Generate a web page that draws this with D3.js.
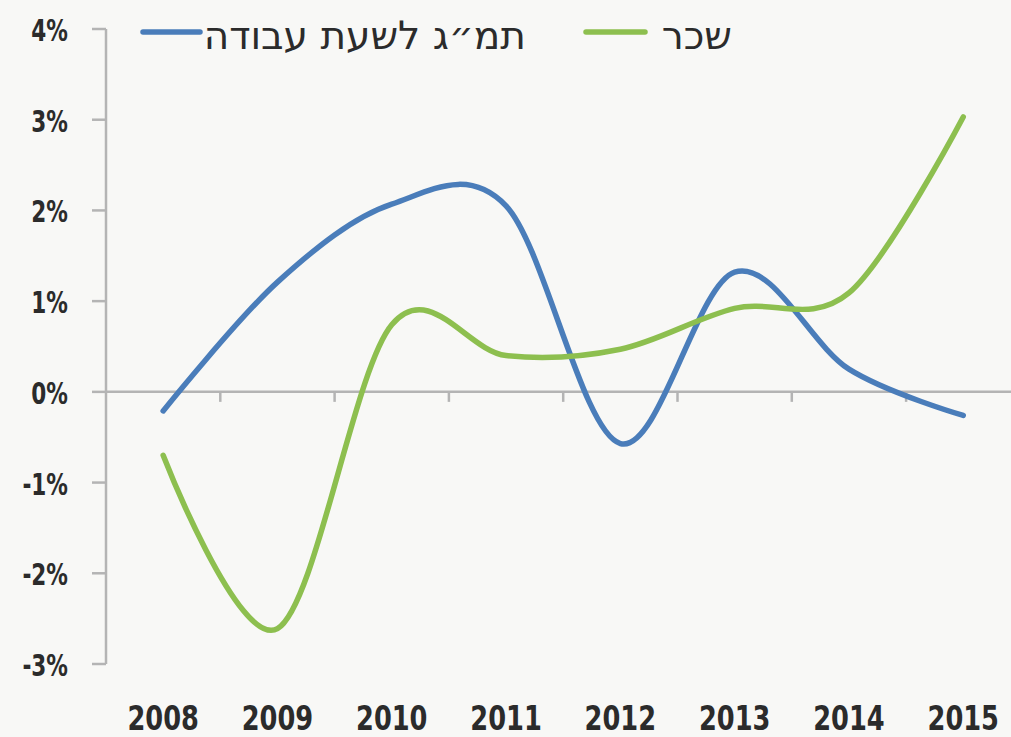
<!DOCTYPE html>
<html>
<head>
<meta charset="utf-8">
<script src="https://cdn.jsdelivr.net/npm/d3@7"></script>
<style>
  html, body { margin: 0; padding: 0; background: #f8f8f6; }
  .tick-label { font-family: "DejaVu Sans Condensed", "DejaVu Sans", sans-serif; font-stretch: condensed; font-weight: bold; fill: #2b2b2b; }
  .legend-label { font-family: "DejaVu Sans", "Liberation Sans", sans-serif; fill: #2b2b2b; }
</style>
</head>
<body>
<div id="chart"></div>
<script>
// years on the x axis
const years = ["2008", "2009", "2010", "2011", "2012", "2013", "2014", "2015"];

// GDP per work hour (blue) and wages (green), % change
const productivity = [-0.21, 1.21, 2.07, 2.05, -0.57, 1.32, 0.25, -0.26];
const wages = [-0.70, -2.61, 0.74, 0.40, 0.47, 0.92, 1.09, 3.03];

const seriesNames = ["תמ״ג לשעת עבודה", "שכר"];
const seriesColors = ["#4a7dba", "#8dbf4f"];

const yTicks = [4, 3, 2, 1, 0, -1, -2, -3];

// dimensions
const width = 1011;
const height = 737;
const margin = { top: 29, left: 106, bottom: 73, right: 0 };

const svg = d3.select("#chart").append("svg")
    .attr("width", width)
    .attr("height", height);

svg.append("rect").attr("width", width).attr("height", height).attr("fill", "#f8f8f6");

const x = d3.scaleBand().domain(years).range([margin.left, margin.left + 8 * 114.3]);
const y = d3.scaleLinear().domain([-3, 4]).range([height - margin.bottom, margin.top]);

const axisColor = "#b4b4b4";

// y axis line + ticks
svg.append("line")
    .attr("x1", margin.left).attr("x2", margin.left)
    .attr("y1", y(4)).attr("y2", y(-3))
    .attr("stroke", axisColor).attr("stroke-width", 2.5);

svg.selectAll("line.ytick")
    .data(yTicks)
    .join("line")
    .attr("class", "ytick")
    .attr("x1", margin.left - 14).attr("x2", margin.left)
    .attr("y1", d => y(d)).attr("y2", d => y(d))
    .attr("stroke", axisColor).attr("stroke-width", 2.5);

svg.selectAll("text.ylabel")
    .data(yTicks)
    .join("text")
    .attr("class", "ylabel tick-label")
    .attr("transform", d => `translate(68,${y(d) + 12}) scale(0.8,1)`)
    .attr("text-anchor", "end")
    .attr("font-size", 30)
    .text(d => (d < 0 ? "-" + Math.abs(d) : d) + "%");

// zero line with category ticks
svg.append("line")
    .attr("x1", margin.left).attr("x2", width)
    .attr("y1", y(0)).attr("y2", y(0))
    .attr("stroke", axisColor).attr("stroke-width", 2.5);

svg.selectAll("line.xtick")
    .data(years.slice(1))
    .join("line")
    .attr("class", "xtick")
    .attr("x1", d => x(d)).attr("x2", d => x(d))
    .attr("y1", y(0)).attr("y2", y(0) + 10)
    .attr("stroke", axisColor).attr("stroke-width", 2.5);

svg.selectAll("text.xlabel")
    .data(years)
    .join("text")
    .attr("class", "xlabel tick-label")
    .attr("transform", d => `translate(${x(d) + x.bandwidth() / 2},730) scale(0.84,1)`)
    .attr("text-anchor", "middle")
    .attr("font-size", 34)
    .text(d => d);

// lines
const line = d3.line()
    .x((d, i) => x(years[i]) + x.bandwidth() / 2)
    .y(d => y(d))
    .curve(d3.curveCardinal.tension(0));

[productivity, wages].forEach((vals, i) => {
    svg.append("path")
        .datum(vals)
        .attr("fill", "none")
        .attr("stroke", seriesColors[i])
        .attr("stroke-width", 5.5)
        .attr("stroke-linecap", "round")
        .attr("d", line);
});

// legend
const legendItems = [
    { name: seriesNames[0], color: seriesColors[0], x1: 143, x2: 200, textX: 526 },
    { name: seriesNames[1], color: seriesColors[1], x1: 586, x2: 645, textX: 732 }
];

const legend = svg.selectAll("g.legend")
    .data(legendItems)
    .join("g")
    .attr("class", "legend");

legend.append("line")
    .attr("x1", d => d.x1).attr("x2", d => d.x2)
    .attr("y1", 32).attr("y2", 32)
    .attr("stroke", d => d.color)
    .attr("stroke-width", 5.5)
    .attr("stroke-linecap", "round");

legend.append("text")
    .attr("class", "legend-label")
    .attr("x", d => d.textX)
    .attr("y", 49)
    .attr("text-anchor", "end")
    .attr("font-size", 39)
    .text(d => d.name);
</script>
</body>
</html>
